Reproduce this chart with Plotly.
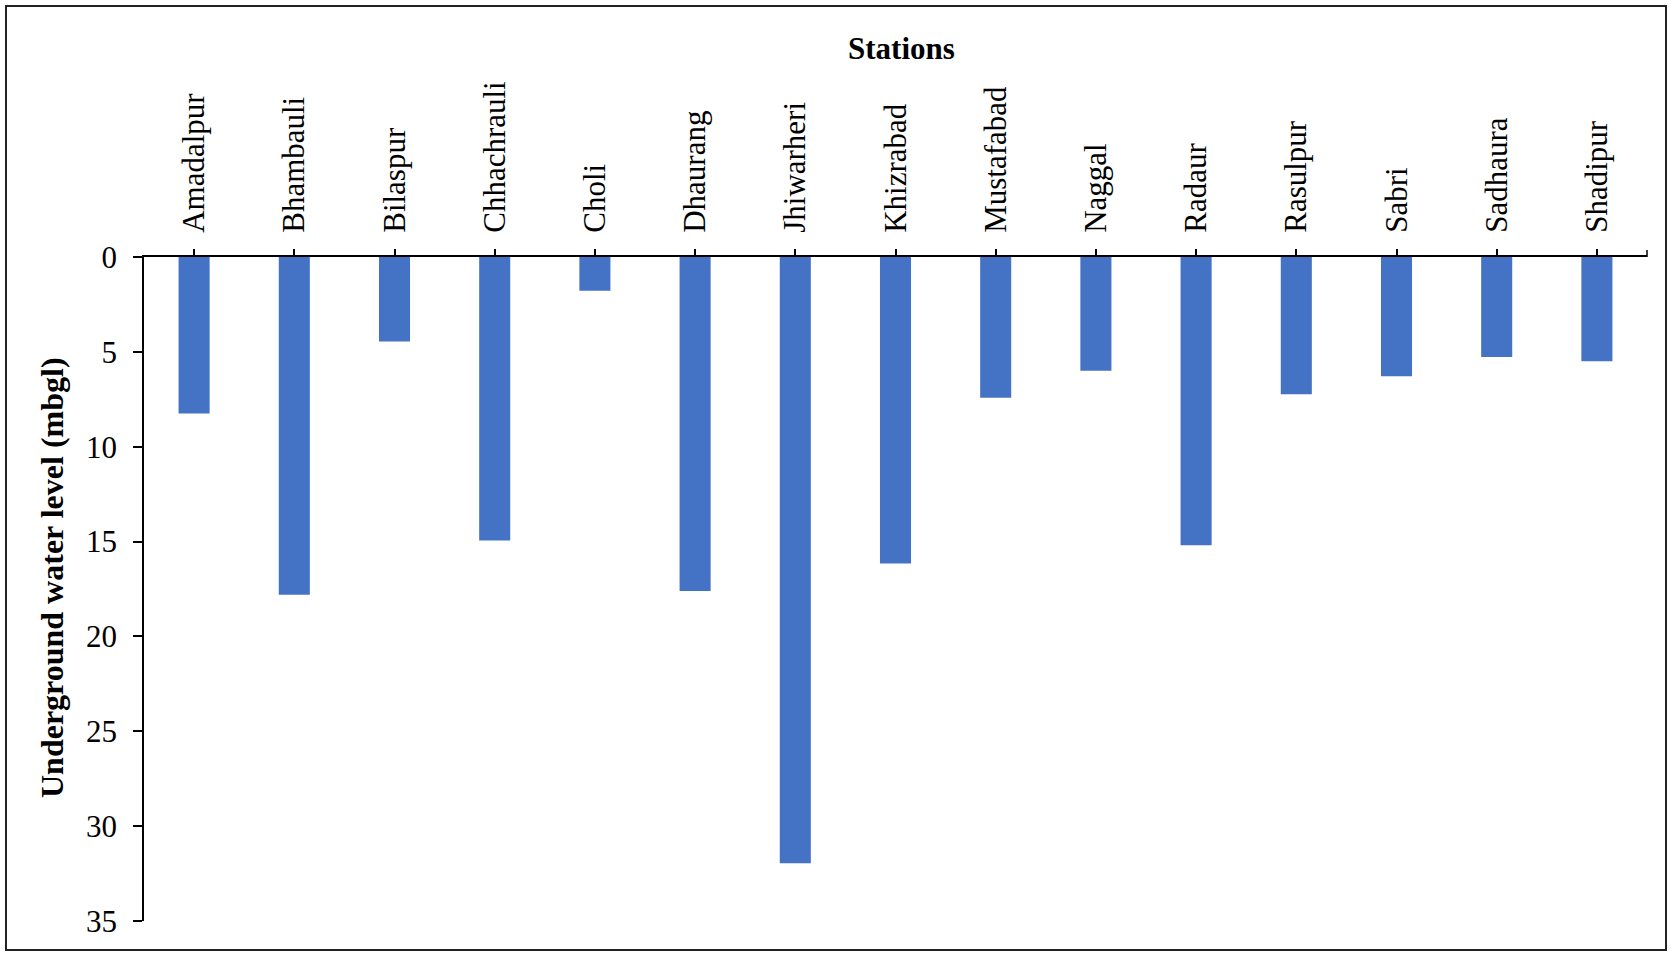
import plotly.graph_objects as go

# Depth to groundwater at each station (metres below ground level)
stations = [
    "Amadalpur", "Bhambauli", "Bilaspur", "Chhachrauli", "Choli",
    "Dhaurang", "Jhiwarheri", "Khizrabad", "Mustafabad", "Naggal",
    "Radaur", "Rasulpur", "Sabri", "Sadhaura", "Shadipur",
]
water_level = [
    8.25, 17.8, 4.45, 14.95, 1.78,
    17.6, 31.95, 16.15, 7.42, 6.0,
    15.2, 7.24, 6.28, 5.27, 5.5,
]
y_ticks = [0, 5, 10, 15, 20, 25, 30, 35]

W, H = 1673, 953
L, R, T, B = 144, 26, 257, 32
pw, ph = W - L - R, H - T - B


def px_to_paper_x(px):
    return (px - L) / pw


def px_to_paper_y(py):
    return (H - B - py) / ph


FONT = "Liberation Serif"

fig = go.Figure(
    go.Bar(
        x=stations,
        y=water_level,
        marker=dict(color="#4472C4", line=dict(width=0)),
    )
)

fig.update_layout(
    width=W,
    height=H,
    margin=dict(l=L, r=R, t=T, b=B, pad=0),
    paper_bgcolor="white",
    plot_bgcolor="white",
    bargap=0.69,
    showlegend=False,
    font=dict(family=FONT, size=31, color="black"),
)

fig.update_xaxes(
    side="top",
    type="category",
    range=[-0.5, len(stations) - 0.5],
    tickangle=-90,
    ticks="outside",
    ticklen=6,
    tickwidth=1.5,
    tickcolor="black",
    ticklabelstandoff=10,
    showline=True,
    linecolor="black",
    linewidth=2,
    showgrid=False,
    zeroline=False,
    tickfont=dict(family=FONT, size=31, color="black"),
)

fig.update_yaxes(
    range=[35, 0],
    tickvals=y_ticks,
    ticks="outside",
    ticklen=9,
    tickwidth=1.5,
    tickcolor="black",
    ticklabelstandoff=10,
    showline=True,
    linecolor="black",
    linewidth=1.5,
    showgrid=False,
    zeroline=False,
    tickfont=dict(family=FONT, size=31, color="black"),
)

# Axis titles
fig.add_annotation(
    text="<b>Stations</b>",
    xref="paper", yref="paper",
    x=px_to_paper_x(901), y=px_to_paper_y(48),
    xanchor="center", yanchor="middle",
    showarrow=False,
    font=dict(family=FONT, size=31, color="black"),
)
fig.add_annotation(
    text="<b>Underground water level (mbgl)</b>",
    xref="paper", yref="paper",
    x=px_to_paper_x(52), y=px_to_paper_y(578),
    xanchor="center", yanchor="middle",
    textangle=-90,
    showarrow=False,
    font=dict(family=FONT, size=32, color="black"),
)

# Closing tick at the right end of the category axis
fig.add_shape(
    type="line",
    xref="paper", yref="paper",
    x0=1, x1=1,
    ysizemode="pixel", yanchor=1, y0=0, y1=7,
    line=dict(color="black", width=1.5),
)

# Chart frame
fig.add_shape(
    type="rect",
    xref="paper", yref="paper",
    x0=px_to_paper_x(6), x1=px_to_paper_x(1666),
    y0=px_to_paper_y(950), y1=px_to_paper_y(6),
    line=dict(color="#222222", width=2),
    fillcolor="rgba(0,0,0,0)",
    layer="above",
)

fig.write_html("out.html")
